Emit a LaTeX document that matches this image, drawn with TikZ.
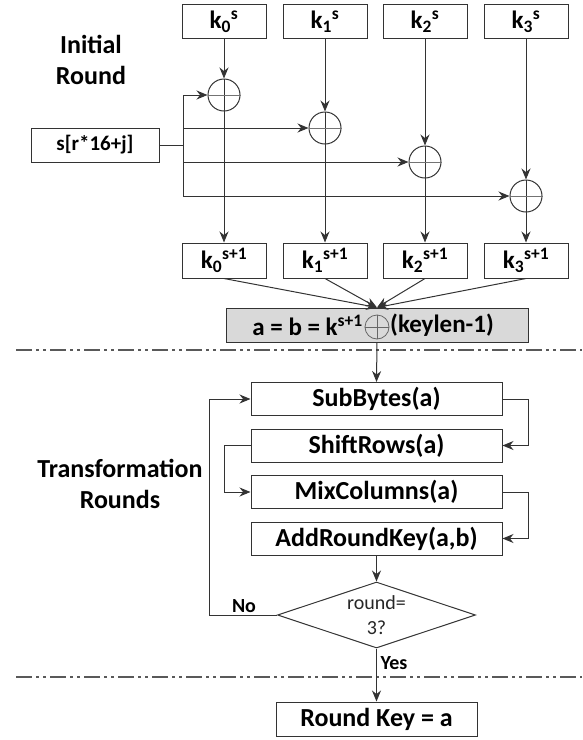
\documentclass[tikz,border=0pt]{standalone}
\usepackage{fontspec}
\setmainfont{Carlito}
\usetikzlibrary{arrows.meta,shapes.geometric}
\definecolor{ln}{HTML}{333333}
\definecolor{gfill}{HTML}{D9D9D9}
\newcommand{\kss}[2]{k\textsubscript{#1}\textsuperscript{#2}}
\begin{document}
\begin{tikzpicture}[x=1pt,y=-1pt,
  every node/.style={inner sep=0pt, text=black},
  kbox/.style={draw=ln, line width=1pt, minimum width=84pt, minimum height=34pt, font=\bfseries\fontsize{25}{27}\selectfont},
  fbox/.style={draw=ln, line width=1pt, minimum width=251pt, minimum height=33pt, font=\bfseries\fontsize{26}{28}\selectfont},
  xorc/.style={draw=ln, line width=1pt, circle, minimum size=32pt},
  arr/.style={draw=ln, line width=1pt, -{Stealth[length=11pt,width=9pt]}},
  ln/.style={draw=ln, line width=1pt},
  sep/.style={draw=black!65, line width=1.3pt, dash pattern=on 16pt off 4pt on 3pt off 4pt on 3pt off 4pt},
  lbl/.style={font=\bfseries\fontsize{26}{31}\selectfont, align=center},
  small/.style={font=\bfseries\fontsize{20}{24}\selectfont}
]
\useasboundingbox (0,0) rectangle (582,740);

% labels
\node[lbl] (initlbl) at (91,60) {Initial\\Round};
\node[lbl] (translbl) at (120,484) {Transformation\\Rounds};

% top key boxes
\node[kbox] (k0s) at (224,21.5) {\kss{0}{s}};
\node[kbox] (k1s) at (325,21.5) {\kss{1}{s}};
\node[kbox] (k2s) at (425,21.5) {\kss{2}{s}};
\node[kbox] (k3s) at (526,21.5) {\kss{3}{s}};

% xor circles
\node[xorc] (x0) at (224,95) {};
\node[xorc] (x1) at (325,128) {};
\node[xorc] (x2) at (425,162) {};
\node[xorc] (x3) at (526,196) {};
\foreach \c in {x0,x1,x2,x3}{
  \draw[ln] (\c.north) -- (\c.south);
  \draw[draw=black!55, line width=1pt] (\c.west) -- (\c.east);
}

% state box
\node[kbox, minimum width=128pt, font=\bfseries\fontsize{21}{24}\selectfont] (s) at (95,145) {s[r*16+j]};
\coordinate (bus) at (183,145);
\draw[ln] (s.east) -- (bus);
\draw[arr] (bus) |- (x0);
\draw[arr] (bus) |- (x1);
\draw[arr] (bus) |- (x2);
\draw[arr] (bus) |- (x3);

% bottom key boxes
\node[kbox, minimum height=35pt] (k0n) at (224,260.5) {\kss{0}{s+1}};
\node[kbox, minimum height=35pt] (k1n) at (325,260.5) {\kss{1}{s+1}};
\node[kbox, minimum height=35pt] (k2n) at (425,260.5) {\kss{2}{s+1}};
\node[kbox, minimum height=35pt] (k3n) at (526,260.5) {\kss{3}{s+1}};

\draw[arr] (k0s) -- (x0);
\draw[arr] (k1s) -- (x1);
\draw[arr] (k2s) -- (x2);
\draw[arr] (k3s) -- (x3);
\draw[arr] (x0) -- (k0n);
\draw[arr] (x1) -- (k1n);
\draw[arr] (x2) -- (k2n);
\draw[arr] (x3) -- (k3n);

% gray box
\node[draw=ln, line width=1pt, fill=gfill, minimum width=302pt, minimum height=34pt] (g) at (377,325) {};
\node[draw=black!60, line width=0.8pt, circle, minimum size=24pt] (gx) at (377,327) {};
\draw[draw=black!60, line width=0.8pt] (gx.north) -- (gx.south) (gx.west) -- (gx.east);
\node[anchor=east, font=\bfseries\fontsize{25}{27}\selectfont] (gl) at (363,325) {a = b = k\textsuperscript{s+1}};
\node[anchor=west, font=\bfseries\fontsize{25}{27}\selectfont] (gr) at (390,325) {(keylen-1)};

\draw[arr] (k0n.south) -- (g.north);
\draw[arr] (k1n.south) -- (g.north);
\draw[arr] (k2n.south) -- (g.north);
\draw[arr] (k3n.south) -- (g.north);

% separators
\coordinate (sepAl) at (16,350);
\coordinate (sepAr) at (582,350);
\draw[sep] (sepAl) -- (sepAr);
\coordinate (sepBl) at (16,677);
\coordinate (sepBr) at (582,677);
\draw[sep] (sepBl) -- (sepBr);

% transformation rounds
\node[fbox] (sub) at (376.5,399) {SubBytes(a)};
\node[fbox] (shift) at (376.5,445.5) {ShiftRows(a)};
\node[fbox] (mix) at (376.5,492) {MixColumns(a)};
\node[fbox] (add) at (376.5,538.5) {AddRoundKey(a,b)};

\draw[arr] (g.south) -- (sub.north);
\coordinate (rA) at (528,399);
\coordinate (lA) at (224,445.5);
\coordinate (rB) at (528,492);
\draw[arr] (sub.east) -- (rA) |- (shift.east);
\draw[arr] (shift.west) -- (lA) |- (mix.west);
\draw[arr] (mix.east) -- (rB) |- (add.east);

% decision
\node[diamond, draw=ln, line width=1pt, minimum width=198pt, minimum height=66pt, aspect=3,
      font=\fontsize{20}{25}\selectfont, align=center, text=black!85] (dec) at (376.5,615) {round=\\3?};
\draw[arr] (add.south) -- (dec.north);

\coordinate (loop) at (209,615);
\draw[arr] (dec.west) -- (loop) |- (sub.west);
\node[small] (no) at (244,606) {No};

\node[kbox, minimum width=201pt, font=\bfseries\fontsize{26}{28}\selectfont] (rk) at (376.5,719) {Round Key = a};
\draw[arr] (dec.south) -- (rk.north);
\node[small] (yes) at (394,663) {Yes};
\end{tikzpicture}
\end{document}
